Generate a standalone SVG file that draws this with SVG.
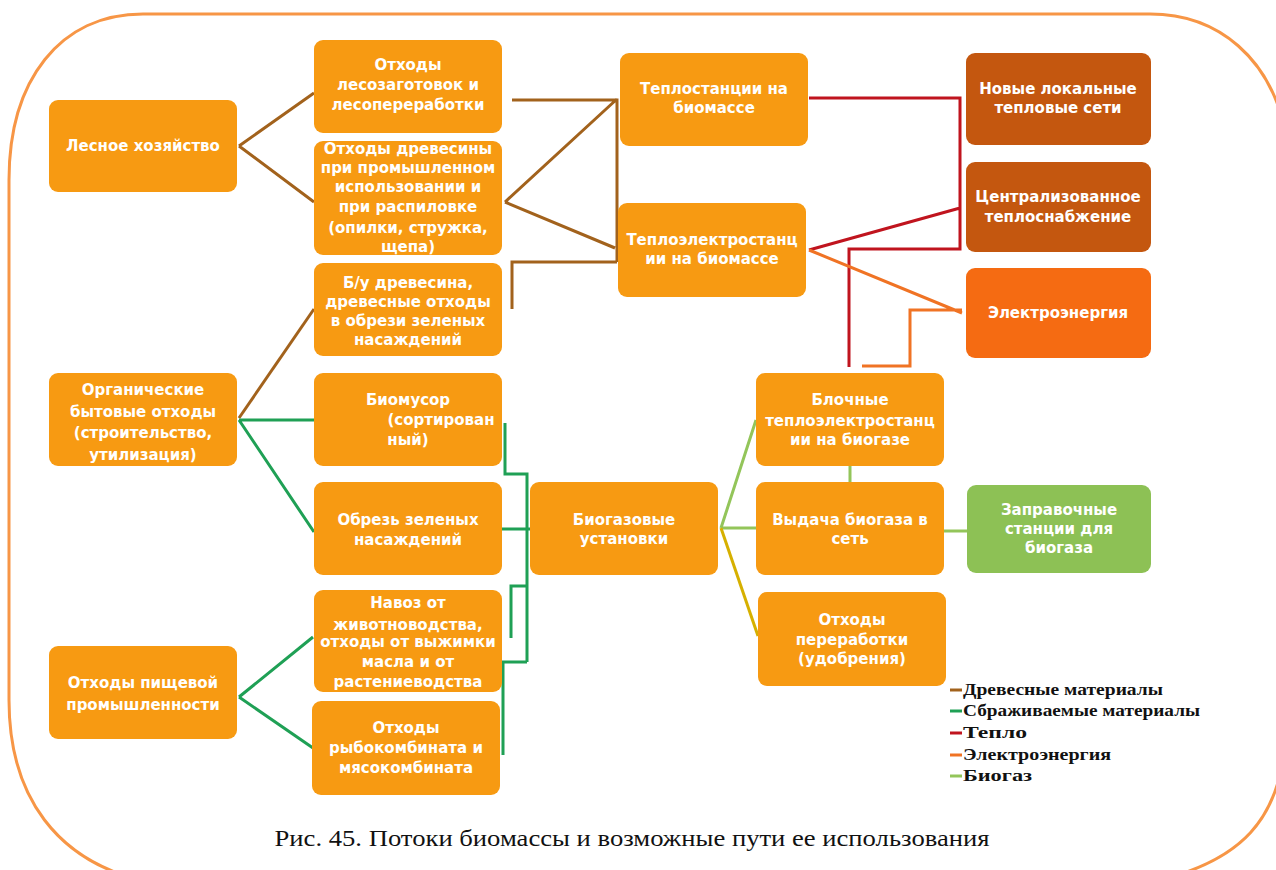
<svg xmlns="http://www.w3.org/2000/svg" width="1276" height="870" viewBox="0 0 1276 870">
<style>
.n{fill:#F79A12;}
.d{fill:#C4570F;}
.e{fill:#F56B12;}
.g{fill:#8DC155;}
.t{font-family:"DejaVu Sans","Liberation Sans",Arial,sans-serif;font-weight:bold;font-size:15px;fill:#FFFFFF;text-anchor:middle;}
.c{fill:none;stroke-width:3;stroke-linejoin:miter;}
.br{stroke:#A2621C;}
.gr{stroke:#1FA055;}
.rd{stroke:#C0141E;}
.or{stroke:#F07324;}
.lg{stroke:#93C55A;}
.yl{stroke:#D6B000;}
.lt{font-family:"Liberation Serif","Times New Roman",serif;font-weight:bold;font-size:16px;fill:#111111;}
</style>
<rect x="0" y="0" width="1276" height="870" fill="#FFFFFF"/>
<g id="frame">
<path d="M 143 14 C 60 14, 9 80, 9 180 L 9 700 C 9 800, 60 860, 140 880 M 143 14 L 1150 14 C 1220 14, 1270 60, 1285 130 L 1285 740 C 1280 820, 1240 860, 1160 880" fill="none" stroke="#F79646" stroke-width="3"/>
</g>
<g id="connectors">
<path class="c br" d="M 239 146 L 314 93 M 239 146 L 314 202"/>
<path class="c br" d="M 512 100 L 617 100 L 617 262 M 505 202 L 617 99 M 505 202 L 615 248 M 512 309 L 512 262 L 617 262"/>
<path class="c br" d="M 239 418 L 314 309"/>
<path class="c gr" d="M 239 420 L 314 420 M 239 420 L 314 532"/>
<path class="c gr" d="M 239 697 L 313 637 M 239 697 L 313 748"/>
<path class="c gr" d="M 505 423 L 505 474 L 527 474 L 527 662 M 502 529 L 530 529 M 511 638 L 511 586 L 527 586 M 503 755 L 503 662 L 527 662"/>
<path class="c rd" d="M 809 98 L 960 98 L 960 249 L 849 249 L 849 367 M 809 250 L 960 208"/>
<path class="c or" d="M 809 250 L 962 313 M 962 310 L 910 310 L 910 366 L 862 366"/>
<path class="c lg" d="M 721 528 L 756 420 M 721 528 L 756 528 M 850 466 L 850 482 M 944 531 L 967 531"/>
<path class="c yl" d="M 721 528 L 758 636"/>
</g>
<g id="n1"><rect class="n" x="49" y="100" width="188" height="92" rx="9"/><text class="t" x="143" y="151">Лесное хозяйство</text></g>
<g id="n2"><rect class="n" x="314" y="40" width="188" height="93" rx="9"/><text class="t" x="408" y="70">Отходы</text><text class="t" x="408" y="90">лесозаготовок и</text><text class="t" x="408" y="110">лесопереработки</text></g>
<g id="n3"><rect class="n" x="314" y="141" width="188" height="114" rx="9"/><text class="t" x="408" y="154">Отходы древесины</text><text class="t" x="408" y="173">при промышленном</text><text class="t" x="408" y="192">использовании и</text><text class="t" x="408" y="212">при распиловке</text><text class="t" x="408" y="233">(опилки, стружка,</text><text class="t" x="408" y="252">щепа)</text></g>
<g id="n4"><rect class="n" x="314" y="263" width="188" height="93" rx="9"/><text class="t" x="408" y="288">Б/у древесина,</text><text class="t" x="408" y="307">древесные отходы</text><text class="t" x="408" y="326">в обрези зеленых</text><text class="t" x="408" y="345">насаждений</text></g>
<g id="n5"><rect class="n" x="49" y="373" width="188" height="93" rx="9"/><text class="t" x="143" y="395">Органические</text><text class="t" x="143" y="417">бытовые отходы</text><text class="t" x="143" y="438">(строительство,</text><text class="t" x="143" y="460">утилизация)</text></g>
<g id="n6"><rect class="n" x="314" y="373" width="188" height="93" rx="9"/><text class="t" x="408" y="405">Биомусор</text><text class="t" x="441" y="425">(сортирован</text><text class="t" x="408" y="445">ный)</text></g>
<g id="n7"><rect class="n" x="314" y="482" width="188" height="93" rx="9"/><text class="t" x="408" y="525">Обрезь зеленых</text><text class="t" x="408" y="545">насаждений</text></g>
<g id="n8"><rect class="n" x="314" y="590" width="188" height="102" rx="9"/><text class="t" x="408" y="608">Навоз от</text><text class="t" x="408" y="630">животноводства,</text><text class="t" x="408" y="647">отходы от выжимки</text><text class="t" x="408" y="667">масла и от</text><text class="t" x="408" y="687">растениеводства</text></g>
<g id="n9"><rect class="n" x="49" y="646" width="188" height="93" rx="9"/><text class="t" x="143" y="688">Отходы пищевой</text><text class="t" x="143" y="710">промышленности</text></g>
<g id="n10"><rect class="n" x="312" y="701" width="188" height="94" rx="9"/><text class="t" x="406" y="733">Отходы</text><text class="t" x="406" y="753">рыбокомбината и</text><text class="t" x="406" y="773">мясокомбината</text></g>
<g id="n11"><rect class="n" x="620" y="53" width="188" height="93" rx="9"/><text class="t" x="714" y="94">Теплостанции на</text><text class="t" x="714" y="113">биомассе</text></g>
<g id="n12"><rect class="n" x="618" y="203" width="188" height="94" rx="9"/><text class="t" x="712" y="245">Теплоэлектростанц</text><text class="t" x="712" y="264">ии на биомассе</text></g>
<g id="n13"><rect class="n" x="530" y="482" width="188" height="93" rx="9"/><text class="t" x="624" y="525">Биогазовые</text><text class="t" x="624" y="544">установки</text></g>
<g id="n14"><rect class="n" x="756" y="373" width="188" height="93" rx="9"/><text class="t" x="850" y="405">Блочные</text><text class="t" x="850" y="426">теплоэлектростанц</text><text class="t" x="850" y="445">ии на биогазе</text></g>
<g id="n15"><rect class="n" x="756" y="482" width="188" height="93" rx="9"/><text class="t" x="850" y="525">Выдача биогаза в</text><text class="t" x="850" y="544">сеть</text></g>
<g id="n16"><rect class="n" x="758" y="592" width="188" height="94" rx="9"/><text class="t" x="852" y="625">Отходы</text><text class="t" x="852" y="645">переработки</text><text class="t" x="852" y="664">(удобрения)</text></g>
<g id="n17"><rect class="d" x="966" y="53" width="185" height="92" rx="9"/><text class="t" x="1058" y="94">Новые локальные</text><text class="t" x="1058" y="113">тепловые сети</text></g>
<g id="n18"><rect class="d" x="966" y="162" width="185" height="90" rx="9"/><text class="t" x="1058" y="202">Централизованное</text><text class="t" x="1058" y="222">теплоснабжение</text></g>
<g id="n19"><rect class="e" x="966" y="268" width="185" height="90" rx="9"/><text class="t" x="1058" y="318">Электроэнергия</text></g>
<g id="n20"><rect class="g" x="967" y="485" width="184" height="88" rx="9"/><text class="t" x="1059" y="515">Заправочные</text><text class="t" x="1059" y="534">станции для</text><text class="t" x="1059" y="553">биогаза</text></g>
<g id="legend">
<line x1="950" y1="690" x2="962" y2="690" stroke="#A2621C" stroke-width="3"/>
<line x1="950" y1="711" x2="962" y2="711" stroke="#1FA055" stroke-width="3"/>
<line x1="950" y1="733" x2="962" y2="733" stroke="#C0141E" stroke-width="3"/>
<line x1="950" y1="755" x2="962" y2="755" stroke="#F07324" stroke-width="3"/>
<line x1="950" y1="776" x2="962" y2="776" stroke="#93C55A" stroke-width="3"/>
<text class="lt" x="963" y="695" textLength="200" lengthAdjust="spacingAndGlyphs">Древесные материалы</text>
<text class="lt" x="963" y="716" textLength="237" lengthAdjust="spacingAndGlyphs">Сбраживаемые материалы</text>
<text class="lt" x="963" y="738" textLength="64" lengthAdjust="spacingAndGlyphs">Тепло</text>
<text class="lt" x="963" y="760" textLength="148" lengthAdjust="spacingAndGlyphs">Электроэнергия</text>
<text class="lt" x="963" y="781" textLength="69" lengthAdjust="spacingAndGlyphs">Биогаз</text>
</g>
<text x="632" y="846" font-family="Liberation Serif, Times New Roman, serif" font-size="24" fill="#111111" text-anchor="middle" textLength="715" lengthAdjust="spacingAndGlyphs">Рис. 45. Потоки биомассы и возможные пути ее использования</text>
</svg>
